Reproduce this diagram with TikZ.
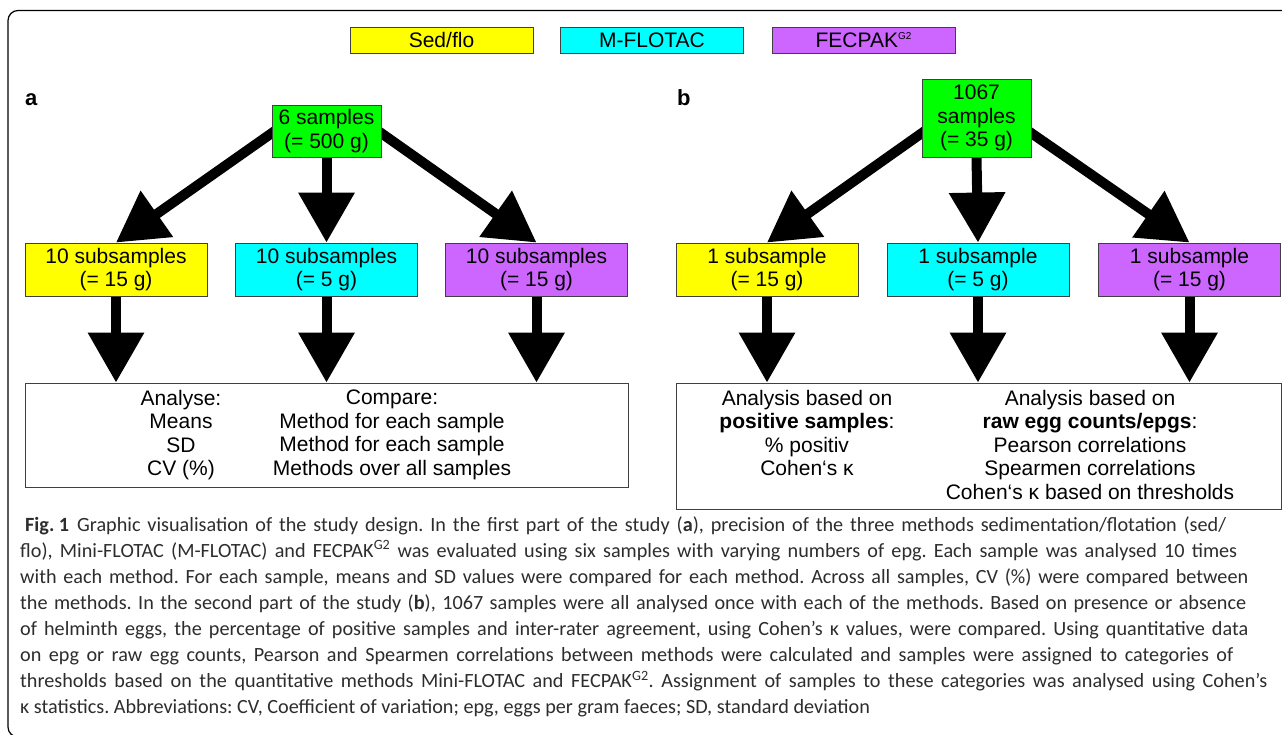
\documentclass[tikz,border=0pt]{standalone}
\usepackage{fontspec}
\usetikzlibrary{arrows.meta,backgrounds}
\setmainfont{Liberation Sans}
\newfontfamily\diagfont{Liberation Sans}
\newfontfamily\capfont{Carlito}
\definecolor{cyel}{RGB}{255,255,0}
\definecolor{ccya}{RGB}{0,255,255}
\definecolor{cpur}{RGB}{204,102,255}
\definecolor{cgrn}{RGB}{0,255,0}
\definecolor{capgray}{RGB}{45,45,45}
\newcommand\dfs{\diagfont\fontsize{21}{23.5}\selectfont}
\newcommand\cfs{\capfont\fontsize{20.2}{26}\selectfont\frenchspacing}
\begin{document}
\begin{tikzpicture}[x=1pt,y=-1pt,
  box/.style={draw=black!75, line width=0.9pt, inner sep=0pt, font=\dfs, align=center},
  legbox/.style={box, minimum width=183pt, minimum height=26pt},
  subbox/.style={box, minimum width=182pt, minimum height=53pt},
  arr/.style={line width=10pt, -{Triangle[length=50pt,width=54pt]}},
  col/.style={inner sep=0pt, font=\dfs, align=center, anchor=north},
  capl/.style={inner sep=0pt, anchor=base west, font=\cfs, text=capgray},
  lab/.style={inner sep=0pt, anchor=base west, font=\diagfont\bfseries\fontsize{22}{24}\selectfont}]
\useasboundingbox (0,0) rectangle (1282,734);
% legend
\node[legbox, fill=cyel] (lsed) at (441.5,40) {Sed/flo};
\node[legbox, fill=ccya] (lmf) at (652,40) {M-FLOTAC};
\node[legbox, fill=cpur] (lfec) at (863.5,40) {FECPAK\raisebox{8pt}{\fontsize{10}{10}\selectfont G2}};
% labels
\node[lab] (la) at (25,105) {a};
\node[lab] (lb) at (677,105) {b};
% part a
\node[box, fill=cgrn, minimum width=109pt, minimum height=52pt] (ga) at (326.5,131) {6 samples\\(= 500 g)};
\node[subbox, fill=cyel] (ya) at (116,269.5) {10 subsamples\\(= 15 g)};
\node[subbox, fill=ccya] (ca) at (326.5,269.5) {10 subsamples\\(= 5 g)};
\node[subbox, fill=cpur] (pa) at (536.5,269.5) {10 subsamples\\(= 15 g)};
\node[box, fill=white, minimum width=603pt, minimum height=104pt] (ba) at (326.5,435) {};
\node[col] (ta1) at (181,390) {Analyse:\\Means\\SD\\CV (\%)};
\node[col] (ta2) at (392,390) {Compare:\\Method for each sample\\Method for each sample\\Methods over all samples};
% part b
\node[box, fill=cgrn, minimum width=109pt, minimum height=78pt] (gb) at (976.5,118) {1067\\samples\\(= 35 g)};
\node[subbox, fill=cyel] (yb) at (767,269.5) {1 subsample\\(= 15 g)};
\node[subbox, fill=ccya] (cb) at (978,269.5) {1 subsample\\(= 5 g)};
\node[subbox, fill=cpur] (pb) at (1189.5,269.5) {1 subsample\\(= 15 g)};
\node[box, fill=white, minimum width=605pt, minimum height=126pt] (bb) at (978.5,446) {};
\node[col] (tb1) at (807,390) {Analysis based on\\\textbf{positive samples}:\\\% positiv\\Cohen‘s κ};
\node[col] (tb2) at (1090,390) {Analysis based on\\\textbf{raw egg counts/epgs}:\\Pearson correlations\\Spearmen correlations\\Cohen‘s κ based on thresholds};
% arrows and frame behind
\begin{pgfonlayer}{background}
\fill[white] (0,0) rectangle (1282,734);
\begin{scope}
\clip (0,0) rectangle (1282,734);
\draw[line width=1.2pt, rounded corners=10pt] (1300,10.5) -- (8,10.5) -- (8,737) -- (1300,737);
\end{scope}
\draw[arr] ([xshift=4pt,yshift=27pt]ga.south west) -- (ya.north);
\draw[arr] (ga.south) -- (ca.north);
\draw[arr] ([xshift=-4pt,yshift=27pt]ga.south east) -- (pa.north);
\draw[arr] (ya.south) -- (ya.south |- ba.north);
\draw[arr] (ca.south) -- (ca.south |- ba.north);
\draw[arr] (pa.south) -- (pa.south |- ba.north);
\draw[arr] ([xshift=4pt,yshift=27pt]gb.south west) -- (yb.north);
\draw[arr] (gb.south) -- (cb.north);
\draw[arr] ([xshift=-4pt,yshift=27pt]gb.south east) -- (pb.north);
\draw[arr] (yb.south) -- (yb.south |- bb.north);
\draw[arr] (cb.south) -- (cb.south |- bb.north);
\draw[arr] (pb.south) -- (pb.south |- bb.north);
\end{pgfonlayer}
% caption
\node[capl] (c1) at (25,531) {\makebox[1201pt][s]{\textbf{Fig.\hspace{4.5pt}1}\hspace{8pt}Graphic visualisation of the study design. In the first part of the study (\textbf{a}), precision of the three methods sedimentation/flotation (sed/}};
\node[capl] (c2) at (20,557.1) {\makebox[1217pt][s]{flo), Mini-FLOTAC (M-FLOTAC) and FECPAK\textsuperscript{G2} was evaluated using six samples with varying numbers of epg. Each sample was analysed 10 times}};
\node[capl] (c3) at (20,583.2) {\makebox[1228pt][s]{with each method. For each sample, means and SD values were compared for each method. Across all samples, CV (\%) were compared between}};
\node[capl] (c4) at (20,609.3) {\makebox[1226pt][s]{the methods. In the second part of the study (\textbf{b}), 1067 samples were all analysed once with each of the methods. Based on presence or absence}};
\node[capl] (c5) at (20,635.4) {\makebox[1228pt][s]{of helminth eggs, the percentage of positive samples and inter-rater agreement, using Cohen’s κ values, were compared. Using quantitative data}};
\node[capl] (c6) at (20,661.5) {\makebox[1213pt][s]{on epg or raw egg counts, Pearson and Spearmen correlations between methods were calculated and samples were assigned to categories of}};
\node[capl] (c7) at (20,687.6) {\makebox[1247pt][s]{thresholds based on the quantitative methods Mini-FLOTAC and FECPAK\textsuperscript{G2}. Assignment of samples to these categories was analysed using Cohen’s}};
\node[capl] (c8) at (20,713.7) {κ statistics. Abbreviations: CV, Coefficient of variation; epg, eggs per gram faeces; SD, standard deviation};
\end{tikzpicture}
\end{document}
